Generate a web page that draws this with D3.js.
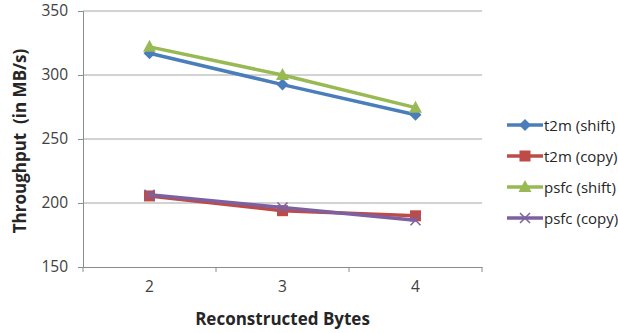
<!DOCTYPE html>
<html lang="en">
<head>
<meta charset="utf-8">
<title>Throughput chart</title>
<script type="text/javascript" src="https://cdn.jsdelivr.net/npm/d3@7"></script>
<style>
body { margin: 0; background: #fff; }
text { font-family: "Open Sans", "Liberation Sans", sans-serif; }
</style>
</head>
<body>
<script type="text/javascript">

// data
var categories = ["2", "3", "4"];
var seriesNames = ["t2m (shift)", "t2m (copy)", "psfc (shift)", "psfc (copy)"];
var t2mShift = [317, 292.5, 269];
var t2mCopy = [205.5, 194, 190];
var psfcShift = [322, 300, 274.5];
var psfcCopy = [206.5, 196.5, 186.5];
var yTicks = [150, 200, 250, 300, 350];

var colors = ["#4a7ebb", "#be4b48", "#98b954", "#7d60a0"];
var markers = ["diamond", "square", "triangle", "x"];
var allSeries = [t2mShift, t2mCopy, psfcShift, psfcCopy];

var w = 618, h = 333;
var plotLeft = 83, plotRight = 482, plotTop = 11, plotBottom = 267;

var svg = d3.select("body").append("svg")
  .attr("width", w)
  .attr("height", h);

var x = d3.scaleBand().domain(categories).range([plotLeft, plotRight]);
var y = d3.scaleLinear().domain([150, 350]).range([plotBottom, plotTop]);

// gridlines
svg.selectAll("line.grid")
  .data(yTicks.slice(1))
  .enter()
  .append("line")
  .attr("class", "grid")
  .attr("x1", plotLeft).attr("x2", plotRight)
  .attr("y1", function(d) { return y(d); })
  .attr("y2", function(d) { return y(d); })
  .attr("stroke", "#a6a6a6")
  .attr("stroke-width", 1);

// y axis
var yAxis = svg.append("g")
  .attr("transform", "translate(" + plotLeft + ",0)")
  .call(d3.axisLeft(y).tickValues(yTicks).tickSize(5).tickPadding(10));
yAxis.select(".domain").attr("stroke", "#8c8c8c");
yAxis.selectAll(".tick line").attr("stroke", "#8c8c8c");
yAxis.selectAll("text").attr("font-size", "15.5px").attr("fill", "#404040");

// x axis: ticks on category boundaries
var xAxis = svg.append("g")
  .attr("transform", "translate(0," + plotBottom + ")")
  .call(d3.axisBottom(x).tickSize(0).tickPadding(14));
xAxis.select(".domain").attr("stroke", "#8c8c8c");
xAxis.selectAll("text").attr("font-size", "15.5px").attr("fill", "#404040");
var bounds = categories.map(function(c) { return x(c); }).concat([x(categories[2]) + x.bandwidth()]);
xAxis.selectAll("line.bound")
  .data(bounds)
  .enter()
  .append("line")
  .attr("class", "bound")
  .attr("x1", function(d) { return d; }).attr("x2", function(d) { return d; })
  .attr("y1", 0).attr("y2", 5)
  .attr("stroke", "#8c8c8c");

// axis titles
svg.append("text")
  .attr("transform", "translate(26," + ((plotTop + plotBottom) / 2 + 2) + ") rotate(-90)")
  .attr("text-anchor", "middle")
  .attr("font-size", "17px")
  .attr("font-weight", "bold")
  .attr("fill", "#262626")
  .style("white-space", "pre")
  .text("Throughput  (in MB/s)");

svg.append("text")
  .attr("x", (plotLeft + plotRight) / 2)
  .attr("y", 325)
  .attr("text-anchor", "middle")
  .attr("font-size", "17px")
  .attr("font-weight", "bold")
  .attr("fill", "#262626")
  .text("Reconstructed Bytes");

function drawMarker(g, type, color) {
  if (type == "diamond") {
    g.append("path").attr("d", "M0,-6L6,0L0,6L-6,0Z").attr("fill", color);
  } else if (type == "square") {
    g.append("rect").attr("x", -5.5).attr("y", -5.5).attr("width", 11).attr("height", 11).attr("fill", color);
  } else if (type == "triangle") {
    g.append("path").attr("d", "M0,-7L6.5,5L-6.5,5Z").attr("fill", color);
  } else {
    g.append("path").attr("d", "M-5,-5L5,5M-5,5L5,-5").attr("stroke", color).attr("stroke-width", 1.5);
  }
}

var line = d3.line()
  .x(function(d, i) { return x(categories[i]) + x.bandwidth() / 2; })
  .y(function(d) { return y(d); });

allSeries.forEach(function(s, k) {
  svg.append("path")
    .datum(s)
    .attr("d", line)
    .attr("fill", "none")
    .attr("stroke", colors[k])
    .attr("stroke-width", 3.5)
    .attr("stroke-linejoin", "round");
  s.forEach(function(v, i) {
    var g = svg.append("g")
      .attr("transform", "translate(" + (x(categories[i]) + x.bandwidth() / 2) + "," + y(v) + ")");
    drawMarker(g, markers[k], colors[k]);
  });
});

// legend
var legend = svg.selectAll("g.legend")
  .data(seriesNames)
  .enter()
  .append("g")
  .attr("class", "legend")
  .attr("transform", function(d, i) { return "translate(507," + (125 + i * 31) + ")"; });

legend.append("line")
  .attr("x1", 0).attr("x2", 36)
  .attr("stroke", function(d, i) { return colors[i]; })
  .attr("stroke-width", 3.5);

legend.each(function(d, i) {
  var g = d3.select(this).append("g").attr("transform", "translate(18,0)");
  drawMarker(g, markers[i], colors[i]);
});

legend.append("text")
  .attr("x", 37)
  .attr("y", 5.5)
  .attr("font-size", "15px")
  .attr("fill", "#262626")
  .text(function(d) { return d; });

</script>
</body>
</html>
